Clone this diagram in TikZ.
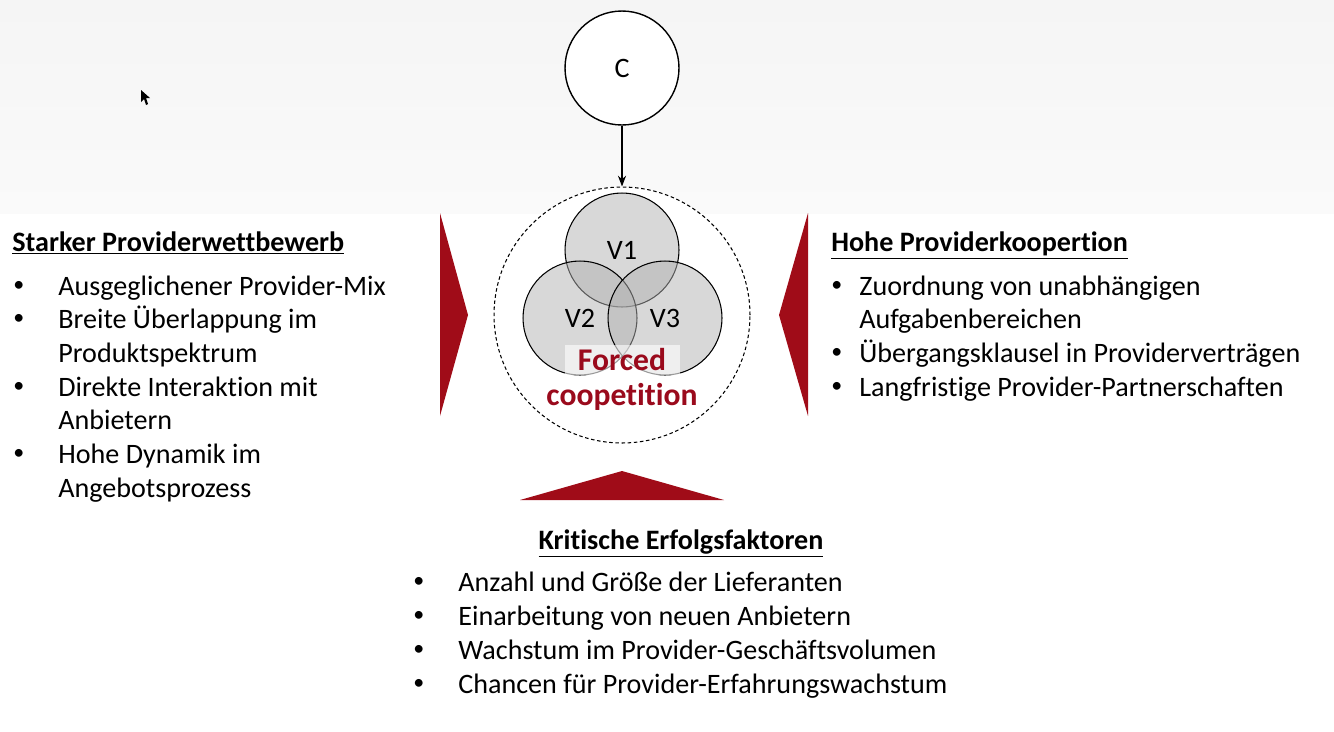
\documentclass[tikz,border=0pt]{standalone}
\usepackage{fontspec}
\setmainfont{Carlito}[Ligatures={NoCommon,NoContextual}]
\usetikzlibrary{arrows.meta}
\definecolor{wedgered}{HTML}{A00C18}
\definecolor{forcedred}{HTML}{9A0A1C}
\definecolor{vennfill}{HTML}{B2B2B2}
\definecolor{topgray}{HTML}{F5F5F5}
\newcommand{\bodyfont}{\fontsize{16}{19.3}\selectfont}
\newcommand{\forcedfont}{\fontsize{18}{22}\selectfont\bfseries}
\newcommand{\itemdot}{\raisebox{2pt}{\fontsize{12.5}{12.5}\selectfont •}}

\begin{document}
\begin{tikzpicture}[x=0.02cm, y=-0.02cm, >=Stealth, font=\bodyfont]
  \tikzset{
    itemtext/.style={anchor=base west, inner sep=0pt},
    headtext/.style={anchor=base west, inner sep=0pt, font=\bodyfont\bfseries},
    vcircle/.style={circle, draw=black, line width=0.6pt, fill=vennfill, fill opacity=0.5,
      text opacity=1, minimum size=2.28cm, inner sep=0pt},
    redwedge/.style={fill=wedgered, draw=none},
  }
  \useasboundingbox (0,0) rectangle (1334,731);
  \fill[white] (0,0) rectangle (1334,731);
  \shade[top color=topgray, bottom color=topgray!50] (0,0) rectangle (1334,213);
  % mouse pointer
  \fill[black] (141,90) -- (141,102) -- (144,99) -- (146,105) -- (148,104) -- (146,98) -- (150,98) -- cycle;

  % centre
  \node[circle, draw, line width=0.8pt, fill=white, minimum size=2.28cm] (c) at (622,68) {C};
  \node[circle, draw, dashed, dash pattern=on 2pt off 1.5pt, line width=0.6pt, fill=white,
    minimum size=5.12cm] (forced) at (622,315) {};
  \draw[->, line width=0.7pt] (c) -- (forced);
  \node[vcircle] (v1) at (622,250) {V1};
  \node[vcircle] (v2) at (580,318) {V2};
  \node[vcircle] (v3) at (665,318) {V3};
  \node[fill=white, fill opacity=0.6, text opacity=1, text=forcedred, font=\forcedfont,
    minimum width=2.3cm, minimum height=0.6cm, inner sep=0pt] (forcedlabel) at (622,360) {Forced};
  \node[text=forcedred, font=\forcedfont, inner sep=0pt] (coop) at (622,397) {coopetition};

  % wedges
  \fill[redwedge] (440,213) -- (468,315) -- (440,416) -- cycle;
  \fill[redwedge] (808,213) -- (779,315) -- (808,416) -- cycle;
  \fill[redwedge] (520,500) -- (622,471) -- (724,500) -- cycle;

  % left block
  \node[headtext] (lefthead) at (12,251) {\underline{Starker Providerwettbewerb}};
  \node[itemtext] (lb1) at (13,295) {\itemdot};
  \node[itemtext] (l1) at (58,295) {Ausgeglichener Provider-Mix};
  \node[itemtext] (lb2) at (13,328) {\itemdot};
  \node[itemtext] (l2) at (58,328) {Breite Überlappung im};
  \node[itemtext] (l3) at (58,362) {Produktspektrum};
  \node[itemtext] (lb3) at (13,396) {\itemdot};
  \node[itemtext] (l4) at (58,396) {Direkte Interaktion mit};
  \node[itemtext] (l5) at (58,429) {Anbietern};
  \node[itemtext] (lb4) at (13,463) {\itemdot};
  \node[itemtext] (l6) at (58,463) {Hohe Dynamik im};
  \node[itemtext] (l7) at (58,497) {Angebotsprozess};

  % right block
  \node[headtext] (righthead) at (831,251) {\underline{Hohe Providerkoopertion}};
  \node[itemtext] (rb1) at (831,295) {\itemdot};
  \node[itemtext] (r1) at (859,295) {Zuordnung von unabhängigen};
  \node[itemtext] (r2) at (859,328) {Aufgabenbereichen};
  \node[itemtext] (rb2) at (831,362) {\itemdot};
  \node[itemtext] (r3) at (859,362) {Übergangsklausel in Providerverträgen};
  \node[itemtext] (rb3) at (831,396) {\itemdot};
  \node[itemtext] (r4) at (859,396) {Langfristige Provider-Partnerschaften};

  % bottom block
  \node[headtext, anchor=base] (bottomhead) at (681,549) {\underline{Kritische Erfolgsfaktoren}};
  \node[itemtext] (bb1) at (413,591) {\itemdot};
  \node[itemtext] (b1) at (458,591) {Anzahl und Größe der Lieferanten};
  \node[itemtext] (bb2) at (413,625) {\itemdot};
  \node[itemtext] (b2) at (458,625) {Einarbeitung von neuen Anbietern};
  \node[itemtext] (bb3) at (413,659) {\itemdot};
  \node[itemtext] (b3) at (458,659) {Wachstum im Provider-Geschäftsvolumen};
  \node[itemtext] (bb4) at (413,693) {\itemdot};
  \node[itemtext] (b4) at (458,693) {Chancen für Provider-Erfahrungswachstum};
\end{tikzpicture}
\end{document}
